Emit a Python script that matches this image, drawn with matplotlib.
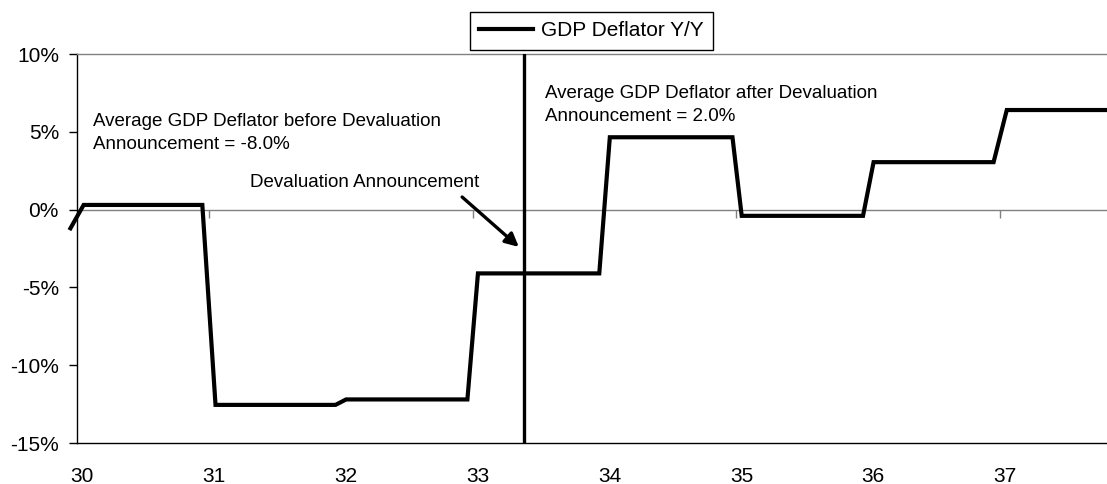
import numpy as np
import matplotlib
matplotlib.use("Agg")
import matplotlib.pyplot as plt
import matplotlib.transforms as mtransforms

plt.rcParams['font.family'] = ['Liberation Sans', 'DejaVu Sans']

# GDP deflator, year over year (%)
dates = [29.95, 30.05, 30.95, 31.05, 31.96, 32.04, 32.96, 33.04,
         33.96, 34.04, 34.97, 35.04, 35.96, 36.04, 36.95, 37.05, 37.85]
deflator = [-1.2, 0.3, 0.3, -12.55, -12.55, -12.2, -12.2, -4.1,
            -4.1, 4.65, 4.65, -0.4, -0.4, 3.05, 3.05, 6.4, 6.4]

years = [30, 31, 32, 33, 34, 35, 36, 37]
year_labels = ['30', '31', '32', '33', '34', '35', '36', '37']
pct_ticks = [-15, -10, -5, 0, 5, 10]
pct_labels = ['-15%', '-10%', '-5%', '0%', '5%', '10%']

announcement = 33.39
avg_before = -8.0
avg_after = 2.0

fig = plt.figure(figsize=(11.07, 4.84), dpi=100)
ax = fig.add_axes([0.0696, 0.0847, 0.9304, 0.8037])

ax.plot(dates, deflator, color='black', lw=3.0, clip_on=False,
        solid_joinstyle='miter', label='GDP Deflator Y/Y', zorder=4)

ax.axvline(announcement, color='black', lw=2.4, zorder=5)
ax.axhline(0, color='#808080', lw=1.0, zorder=1)
# small tick marks sitting on the zero line
ax.plot(years[1::2], [0] * len(years[1::2]), ls='none', marker=3,
        ms=6, mew=1.0, color='#808080', zorder=1)

ax.set_xlim(30, 37.81)
ax.set_ylim(-15, 10)

ax.set_yticks(pct_ticks)
ax.set_yticklabels(pct_labels)
ax.set_xticks(years)
ax.set_xticklabels(year_labels)
ax.tick_params(axis='y', length=6, width=1, pad=7, labelsize=15, color='black')
ax.tick_params(axis='x', length=0, pad=17, labelsize=15)
shift = mtransforms.ScaledTranslation(5 / 100, 0, fig.dpi_scale_trans)
for lab in ax.get_xticklabels():
    lab.set_transform(lab.get_transform() + shift)

ax.spines['right'].set_visible(False)
ax.spines['top'].set_color('#808080')
ax.spines['left'].set_color('black')
ax.spines['bottom'].set_color('black')
for s in ax.spines.values():
    s.set_linewidth(1.0)

ax.text(30.12, 4.9,
        'Average GDP Deflator before Devaluation\nAnnouncement = %.1f%%' % avg_before,
        fontsize=13.5, va='center', ha='left', linespacing=1.45)
ax.text(33.55, 6.7,
        'Average GDP Deflator after Devaluation\nAnnouncement = %.1f%%' % avg_after,
        fontsize=13.5, va='center', ha='left', linespacing=1.45)
ax.annotate('', xy=(33.35, -2.4), xytext=(32.92, 0.81),
            arrowprops=dict(arrowstyle='-|>', color='black', lw=2.4,
                            mutation_scale=20, shrinkA=0, shrinkB=0))
ax.text(31.31, 1.77, 'Devaluation Announcement', fontsize=13.5,
        va='center', ha='left')

leg = fig.legend(loc='center', bbox_to_anchor=(591.5 / 1107, 1 - 31 / 484),
                 fontsize=15, handlelength=2.6, handletextpad=0.4,
                 borderpad=0.45, fancybox=False, framealpha=1, edgecolor='black')
leg.get_frame().set_linewidth(1.0)

fig.savefig('out.png', dpi=100)
